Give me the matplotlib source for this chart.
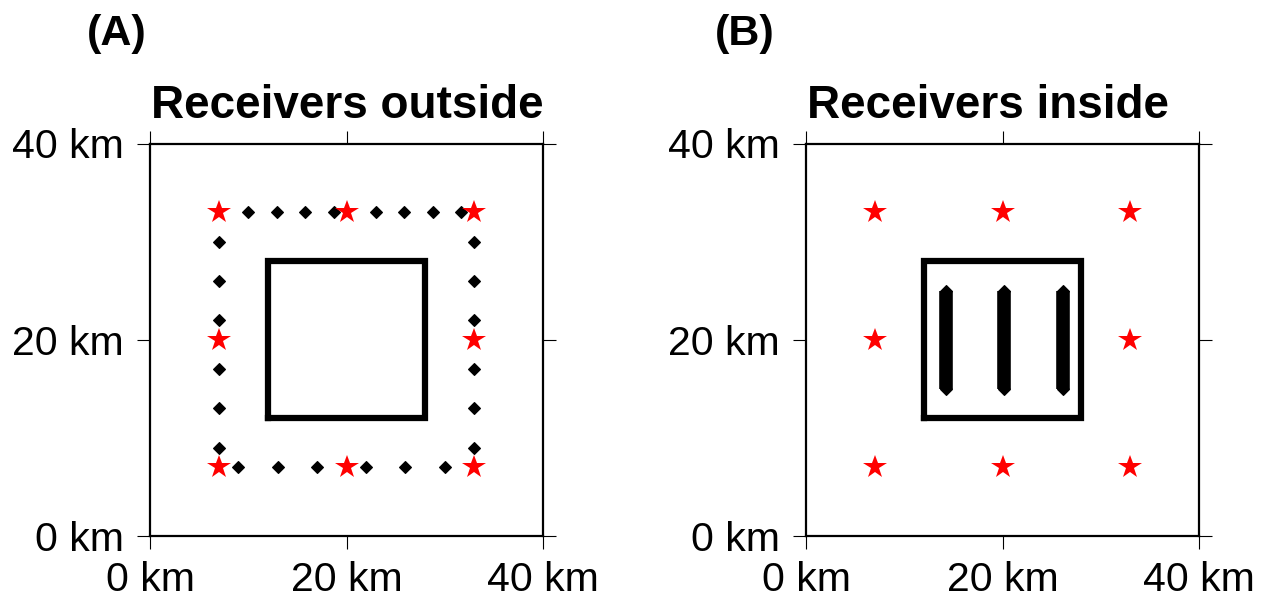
import matplotlib
matplotlib.use("Agg")
import matplotlib.pyplot as plt

plt.rcParams['font.family'] = ['Liberation Sans', 'DejaVu Sans']

# receivers (red stars), same grid in both panels
star_x = [7, 20, 33, 7, 33, 7, 20, 33]
star_y = [33, 33, 33, 20, 20, 7, 7, 7]

# panel A sources (black diamonds) around the box
top_x = [10.0, 12.9, 15.8, 18.7, 23.0, 25.9, 28.8, 31.7]
top_y = [33] * 8
bottom_x = [9, 13, 17, 22, 26, 30]
bottom_y = [7] * 6
side_y = [30, 26, 22, 17, 13, 9]
left_x = [7] * 6
right_x = [33] * 6

# target box
box_x = [12, 28, 28, 12, 12]
box_y = [12, 12, 28, 28, 12]

# panel B line sources inside the box
line_x = [14.2, 20.2, 26.2]
line_y0 = 15
line_y1 = 25

ticks = [0, 20, 40]
tick_labels = ["0 km", "20 km", "40 km"]

W, H = 1269, 604
fig = plt.figure(figsize=(W / 100, H / 100), dpi=100)


def make_axes(left_px):
    ax = fig.add_axes([left_px / W, 1 - 536 / H, 393 / W, 392.5 / H])
    ax.set_xlim(0, 40)
    ax.set_ylim(0, 40)
    ax.set_xticks(ticks)
    ax.set_yticks(ticks)
    ax.set_xticklabels(tick_labels)
    ax.set_yticklabels(tick_labels)
    ax.tick_params(direction='out', length=9.5, width=0.8, top=True, right=True,
                   labelsize=29.5, colors='black')
    ax.tick_params(axis='x', pad=8.5)
    ax.tick_params(axis='y', pad=9.5)
    for s in ax.spines.values():
        s.set_linewidth(1.6)
    ax.plot(box_x, box_y, color='black', lw=4.5, solid_joinstyle='miter', zorder=2)
    return ax


# Panel A: receivers outside
axA = make_axes(150)
src_x = top_x + bottom_x + left_x + right_x
src_y = top_y + bottom_y + side_y + side_y
axA.plot(src_x, src_y, 'D', color='black', ms=6.6, mew=0.8, zorder=3)
axA.plot(star_x, star_y, '*', color='red', ms=17.5, mew=0, zorder=4)

# Panel B: receivers inside
axB = make_axes(806)
for x in line_x:
    axB.plot([x, x], [line_y0, line_y1], color='black', lw=9.8,
             solid_capstyle='butt', zorder=3)
    axB.plot([x, x], [line_y0, line_y1], 'D', color='black', ms=6.6, mew=0.8, zorder=3)
axB.plot(star_x, star_y, '*', color='red', ms=17.5, mew=0, zorder=4)

# titles and panel labels
fig.text(151 / W, 1 - 118 / H, "Receivers outside", ha='left', va='baseline',
         fontsize=33, fontweight='bold')
fig.text(807 / W, 1 - 118 / H, "Receivers inside", ha='left', va='baseline',
         fontsize=33, fontweight='bold')
fig.text(116.5 / W, 1 - 45 / H, "(A)", ha='center', va='baseline',
         fontsize=31, fontweight='bold')
fig.text(745 / W, 1 - 45 / H, "(B)", ha='center', va='baseline',
         fontsize=31, fontweight='bold')

fig.savefig("out.png", dpi=100)
